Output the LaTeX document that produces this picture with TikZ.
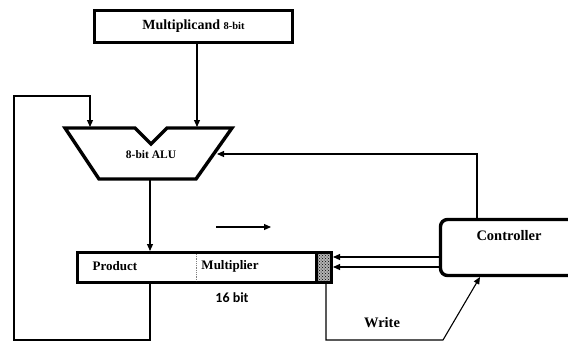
\documentclass[tikz,border=0pt]{standalone}
\usepackage{fontspec}
\setmainfont{Liberation Serif}
\newfontfamily\calibfont{Carlito}
\usetikzlibrary{arrows.meta,positioning,calc,patterns}

\begin{document}
\begin{tikzpicture}[x=1pt, y=-1pt,
  every node/.style={font=\rmfamily\bfseries\fontsize{13}{15}\selectfont, inner sep=0pt},
  blk/.style={draw, line width=3.4pt},
  regbox/.style={draw, line width=3pt, minimum width=254pt, minimum height=30pt},
  ctlbox/.style={draw, line width=3.4pt, rounded corners=7pt,
                 minimum width=160pt, minimum height=56pt},
  arr/.style={-{Triangle[length=7pt,width=6pt]}, line width=1.1pt},
  wire/.style={line width=1.1pt}
]
  \clip (0,0) rectangle (568,341);

  % blocks
  \node[blk, minimum width=198pt, minimum height=32pt,
        font=\rmfamily\bfseries\fontsize{14}{16}\selectfont] (mcand) at (193.5,26.5)
       {Multiplicand {\fontsize{10.5}{12}\selectfont 8-bit}};

  \draw[line width=3.4pt, line join=miter]
       (65,128) -- (135,128) -- (151,144) -- (167,128) -- (232,128)
       -- (196,179) -- (99,179) -- cycle;
  \node[font=\rmfamily\bfseries\fontsize{11.5}{13}\selectfont] (alu) at (151,155) {8-bit ALU};

  \node[regbox] (reg) at (204.5,267.5) {};
  \node[draw, line width=3pt, fill=gray!60, postaction={pattern=crosshatch dots},
        minimum width=15pt, minimum height=30pt] (wbit) at (324,267.5) {};
  \draw[densely dotted, gray, line width=0.8pt] (196,254) -- (196,281);
  \node (prod) at (115,266) {Product};
  \node (mplr) at (230,266) {Multiplier};
  \node[font=\calibfont\bfseries\fontsize{14}{16}\selectfont] (width) at (232,298) {16 bit};

  \node[ctlbox] (ctrl) at (520.5,247.5) {};
  \node[font=\rmfamily\bfseries\fontsize{14.5}{16}\selectfont] (ctrlname) at (509,236) {Controller};

  % named points
  \coordinate (aluA) at (90,127);
  \coordinate (aluB) at (197,127);
  \coordinate (aluC) at (217,154);
  \coordinate (aluO) at (150,180);
  \coordinate (shA) at (216,227);
  \coordinate (shB) at (271,227);
  \coordinate (wb) at (326,340);
  \coordinate (wr) at (480,277);

  % connectors
  \draw[arr] (mcand.south -| aluB) -- (aluB);
  \draw[arr] (aluO) -- (aluO |- reg.north);
  \draw[arr] (shA) -- (shB);
  \draw[arr] (ctrl.west |- 0,257) -- (333,257);
  \draw[arr] (ctrl.west |- 0,267) -- (333,267);
  \draw[arr] (477,219.5) |- (aluC);
  \draw[arr] (aluO |- reg.south) -- (150,340) -- (14,340) -- (14,96) -| (aluA);
  \draw[arr] (wb |- wbit.south) -- (wb) -- (443,340) -- (wr);

  \node[font=\rmfamily\bfseries\fontsize{14.5}{16}\selectfont] (write) at (382,323) {Write};
\end{tikzpicture}
\end{document}
